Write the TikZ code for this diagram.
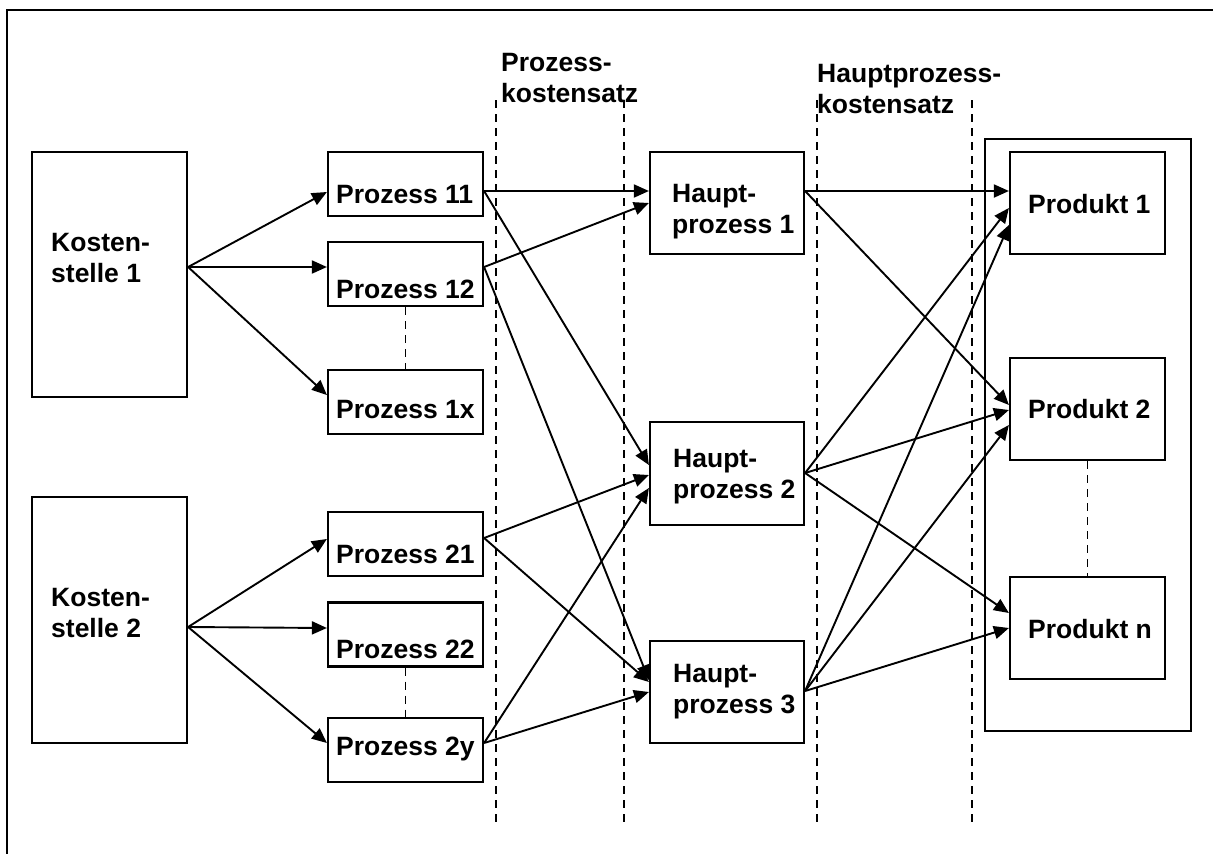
\documentclass[tikz,border=0pt]{standalone}
\usepackage{fontspec}
\setmainfont{Liberation Sans}
\usetikzlibrary{arrows.meta}
\begin{document}
\begin{tikzpicture}[x=1pt,y=-1pt,
  box/.style={draw,line width=2.2pt,rectangle,inner sep=0pt},
  pbox/.style={box,minimum width=155pt,minimum height=64pt},
  hbox/.style={box,minimum width=154pt,minimum height=102pt},
  lbl/.style={anchor=base west,inner sep=0pt,align=left,
    font=\fontsize{26.5}{30.5}\selectfont\bfseries},
  flow/.style={line width=1.9pt,-{Triangle[length=15pt,width=13pt]}},
  sep/.style={line width=2pt,dash pattern=on 8pt off 6pt},
  link/.style={line width=1.8pt,dash pattern=on 8pt off 6pt}]
\useasboundingbox (0,0) rectangle (1213,854);
% frame
\draw[line width=2.2pt] (7,860) -- (7,10) -- (1220,10);

% section separators and their headings
\coordinate (s1t) at (496,100); \coordinate (s1b) at (496,822);
\coordinate (s2t) at (624,100); \coordinate (s2b) at (624,822);
\coordinate (s3t) at (817,100); \coordinate (s3b) at (817,822);
\coordinate (s4t) at (972,100); \coordinate (s4b) at (972,822);
\draw[sep] (s1t) -- (s1b);
\draw[sep] (s2t) -- (s2b);
\draw[sep] (s3t) -- (s3b);
\draw[sep] (s4t) -- (s4b);
% (base anchor of a two-line label sits on its second line)
\node[lbl] (pks) at (501,102) {Prozess-\\kostensatz};
\node[lbl] (hpks) at (817,113) {Hauptprozess-\\kostensatz};

% cost centres
\node[box,minimum width=155pt,minimum height=245pt] (k1) at (109.5,274.5) {};
\node[box,minimum width=155pt,minimum height=246pt] (k2) at (109.5,620) {};
\node[lbl] (k1t) at (51,282) {Kosten-\\stelle 1};
\node[lbl] (k2t) at (51,637) {Kosten-\\stelle 2};

% processes
\node[pbox] (p11) at (405.5,184) {};
\node[pbox] (p12) at (405.5,274) {};
\node[pbox] (p1x) at (405.5,402) {};
\node[pbox] (p21) at (405.5,544) {};
\node[pbox] (p22) at (405.5,634.5) {};
\node[pbox] (p2y) at (405.5,750) {};
\node[lbl] (p11t) at (336,203) {Prozess 11};
\node[lbl] (p12t) at (336,298) {Prozess 12};
\node[lbl] (p1xt) at (336,418) {Prozess 1x};
\node[lbl] (p21t) at (336,563) {Prozess 21};
\node[lbl] (p22t) at (336,658) {Prozess 22};
\node[lbl] (p2yt) at (336,755) {Prozess 2y};
\draw[link] (p12.south) -- (p1x.north);
\draw[link] (p22.south) -- (p2y.north);

% main processes
\node[hbox] (hp1) at (727,203) {};
\node[hbox,minimum height=103pt] (hp2) at (727,473.5) {};
\node[hbox] (hp3) at (727,692) {};
\node[lbl] (hp1t) at (672,233) {Haupt-\\prozess 1};
\node[lbl] (hp2t) at (673,498) {Haupt-\\prozess 2};
\node[lbl] (hp3t) at (673,713) {Haupt-\\prozess 3};

% products
\node[box,minimum width=206pt,minimum height=592pt] (prods) at (1088,435) {};
\node[pbox,minimum height=102pt] (pr1) at (1087.5,203) {};
\node[pbox,minimum height=102pt] (pr2) at (1087.5,409) {};
\node[pbox,minimum height=102pt] (prn) at (1087.5,628) {};
\node[lbl] (pr1t) at (1028,213) {Produkt 1};
\node[lbl] (pr2t) at (1028,418) {Produkt 2};
\node[lbl] (prnt) at (1028,638) {Produkt n};
\draw[link] (pr2.south) -- (prn.north);

% cost centres -> processes
\draw[flow] (k1.east |- 0,267) -- (p11.west |- 0,192);
\draw[flow] (k1.east |- 0,267) -- (p12.west |- 0,267);
\draw[flow] (k1.east |- 0,267) -- (p1x.west |- 0,395);
\draw[flow] (k2.east |- 0,627) -- (p21.west |- 0,539);
\draw[flow] (k2.east |- 0,627) -- (p22.west |- 0,628);
\draw[flow] (k2.east |- 0,627) -- (p2y.west |- 0,743);

% processes -> main processes
\draw[flow] (p11.east |- 0,191) -- (hp1.west |- 0,191);
\draw[flow] (p11.east |- 0,191) -- (hp2.west |- 0,465);
\draw[flow] (p12.east |- 0,267) -- (hp1.west |- 0,203);
\draw[flow] (p12.east |- 0,267) -- (hp3.west |- 0,680);
\draw[flow] (p21.east |- 0,538) -- (hp2.west |- 0,475);
\draw[flow] (p21.east |- 0,538) -- (hp3.west |- 0,682);
\draw[flow] (p2y.east |- 0,743) -- (hp2.west |- 0,488);
\draw[flow] (p2y.east |- 0,743) -- (hp3.west |- 0,692);

% main processes -> products
\draw[flow] (hp1.east |- 0,191) -- (pr1.west |- 0,191);
\draw[flow] (hp1.east |- 0,191) -- (pr2.west |- 0,405);
\draw[flow] (hp2.east |- 0,473) -- (pr1.west |- 0,208);
\draw[flow] (hp2.east |- 0,473) -- (pr2.west |- 0,410);
\draw[flow] (hp2.east |- 0,473) -- (prn.west |- 0,613);
\draw[flow] (hp3.east |- 0,691) -- (pr1.west |- 0,225);
\draw[flow] (hp3.east |- 0,691) -- (pr2.west |- 0,425);
\draw[flow] (hp3.east |- 0,691) -- (prn.west |- 0,628);
\end{tikzpicture}
\end{document}
